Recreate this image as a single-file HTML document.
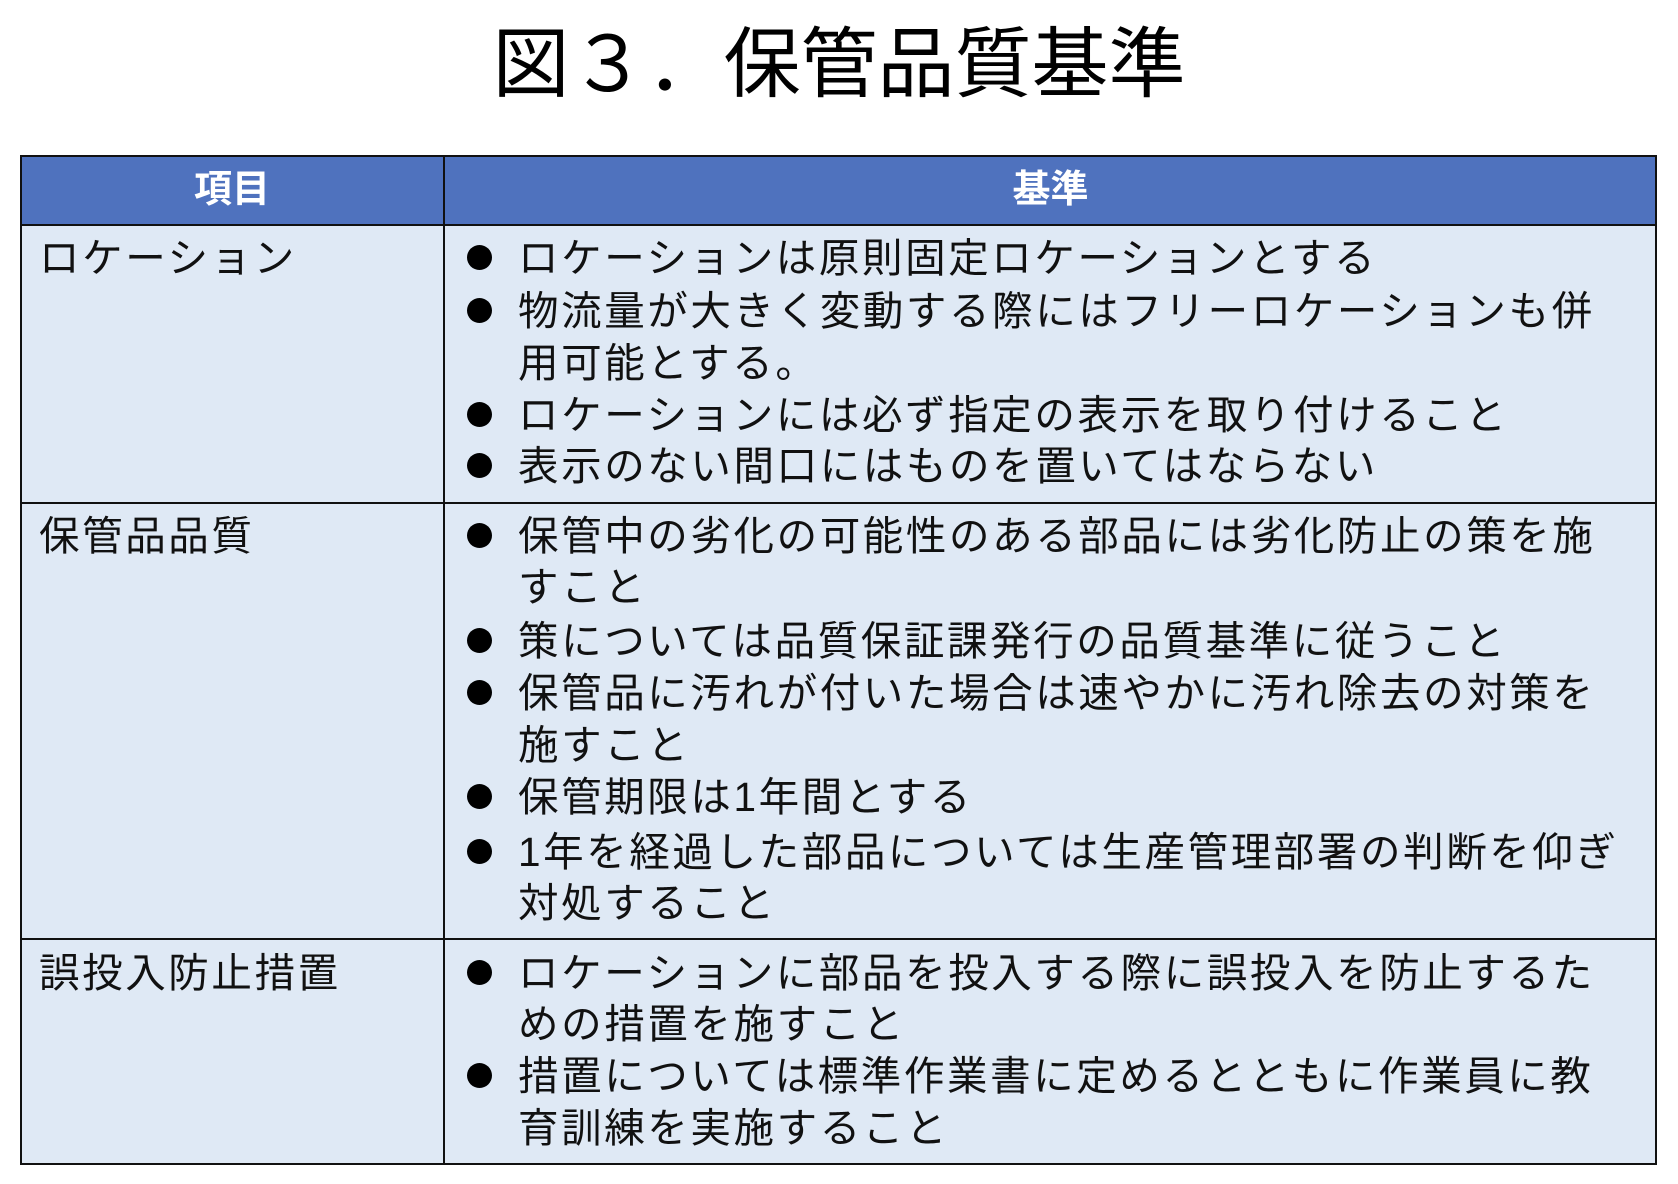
<!DOCTYPE html>
<html><head><meta charset="utf-8"><style>
body{margin:0;width:1678px;height:1184px;background:#fff;position:relative;overflow:hidden;font-family:"Liberation Sans","Noto Sans CJK JP",sans-serif;}
.t{position:absolute;left:0;width:1678px;top:20px;text-align:center;font-size:77px;line-height:90px;color:#000;}
.tbl{position:absolute;left:20px;top:155px;width:1637px;height:1010px;background:#DFE9F5;border:2px solid #111;box-sizing:border-box;}
.hd{position:absolute;left:20px;top:155px;width:1637px;height:71px;background:#4F72BE;border:2px solid #111;box-sizing:border-box;}
.h{position:absolute;top:164px;height:52px;line-height:52px;color:#fff;font-weight:bold;font-size:38px;text-align:center;}
.vl{position:absolute;left:443px;top:155px;width:2px;height:1010px;background:#111;}
.hl{position:absolute;left:20px;width:1637px;height:2px;background:#111;}
.l{position:absolute;left:518px;height:52px;line-height:52px;font-size:40.5px;letter-spacing:2.6px;white-space:nowrap;color:#111;}
.c{position:absolute;left:39px;height:52px;line-height:52px;font-size:40.5px;letter-spacing:2.6px;white-space:nowrap;color:#111;}
.b{position:absolute;left:467px;width:25px;height:25px;border-radius:50%;background:#000;}
</style></head><body>
<div class="t">図３．保管品質基準</div>
<div class="tbl"></div>
<div class="hd"></div>
<div class="vl"></div>
<div class="hl" style="top:502px"></div>
<div class="hl" style="top:938px"></div>
<div class="h" style="left:20px;width:424px">項目</div>
<div class="h" style="left:444px;width:1213px">基準</div>

<div class="c" style="top:232px">ロケーション</div>
<div class="c" style="top:510px">保管品品質</div>
<div class="c" style="top:947px">誤投入防止措置</div>

<div class="b" style="top:245px"></div><div class="l" style="top:232px">ロケーションは原則固定ロケーションとする</div>
<div class="b" style="top:298px"></div><div class="l" style="top:285px">物流量が大きく変動する際にはフリーロケーションも併</div>
<div class="l" style="top:337px">用可能とする。</div>
<div class="b" style="top:402px"></div><div class="l" style="top:389px">ロケーションには必ず指定の表示を取り付けること</div>
<div class="b" style="top:453px"></div><div class="l" style="top:440px">表示のない間口にはものを置いてはならない</div>

<div class="b" style="top:523px"></div><div class="l" style="top:510px">保管中の劣化の可能性のある部品には劣化防止の策を施</div>
<div class="l" style="top:561px">すこと</div>
<div class="b" style="top:628px"></div><div class="l" style="top:615px">策については品質保証課発行の品質基準に従うこと</div>
<div class="b" style="top:680px"></div><div class="l" style="top:667px">保管品に汚れが付いた場合は速やかに汚れ除去の対策を</div>
<div class="l" style="top:719px">施すこと</div>
<div class="b" style="top:784px"></div><div class="l" style="top:771px">保管期限は1年間とする</div>
<div class="b" style="top:839px"></div><div class="l" style="top:826px">1年を経過した部品については生産管理部署の判断を仰ぎ</div>
<div class="l" style="top:877px">対処すること</div>

<div class="b" style="top:960px"></div><div class="l" style="top:947px">ロケーションに部品を投入する際に誤投入を防止するた</div>
<div class="l" style="top:998px">めの措置を施すこと</div>
<div class="b" style="top:1063px"></div><div class="l" style="top:1050px">措置については標準作業書に定めるとともに作業員に教</div>
<div class="l" style="top:1102px">育訓練を実施すること</div>
</body></html>
